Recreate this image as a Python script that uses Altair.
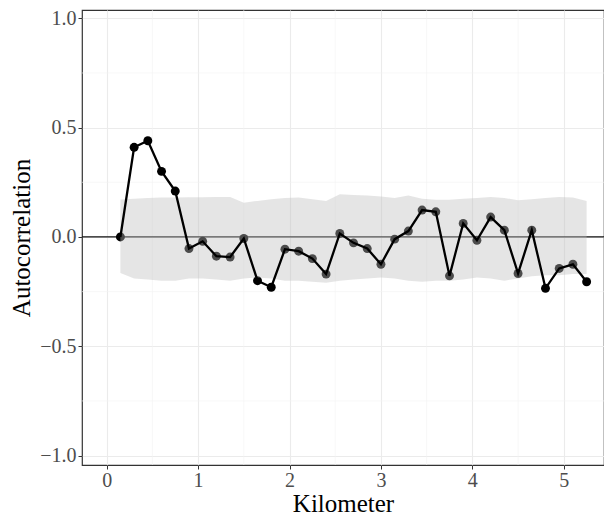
import altair as alt
import pandas as pd

# lags in km
lag_km = [round(0.15 * k, 2) for k in range(1, 36)]
acf = [0.00, 0.41, 0.44, 0.30, 0.21, -0.053, -0.02, -0.088, -0.092, -0.007,
       -0.20, -0.23, -0.056, -0.065, -0.099, -0.17, 0.016, -0.027, -0.053, -0.125,
       -0.01, 0.027, 0.123, 0.115, -0.178, 0.062, -0.015, 0.091, 0.031, -0.167,
       0.031, -0.235, -0.144, -0.125, -0.205]
env_upper = [0.171, 0.175, 0.178, 0.18, 0.18, 0.182, 0.182, 0.183, 0.183, 0.157,
             0.165, 0.172, 0.178, 0.18, 0.172, 0.164, 0.195, 0.192, 0.19, 0.185,
             0.178, 0.19, 0.175, 0.17, 0.17, 0.175, 0.178, 0.183, 0.178, 0.168,
             0.172, 0.178, 0.183, 0.18, 0.164]
env_lower = [-0.165, -0.19, -0.195, -0.2, -0.2, -0.19, -0.19, -0.195, -0.2, -0.19,
             -0.185, -0.19, -0.2, -0.2, -0.205, -0.21, -0.2, -0.195, -0.19, -0.185,
             -0.19, -0.2, -0.205, -0.2, -0.2, -0.195, -0.185, -0.19, -0.2, -0.19,
             -0.18, -0.175, -0.175, -0.17, -0.17]

x_major = [0, 1, 2, 3, 4, 5]
x_minor = [0.5, 1.5, 2.5, 3.5, 4.5]
y_major = [-1.0, -0.5, 0.0, 0.5, 1.0]
y_minor = [-0.75, -0.25, 0.25, 0.75]

df = pd.DataFrame({"lag": lag_km, "acf": acf, "lo": env_lower, "hi": env_upper})

FONT = "Liberation Serif"
xs = alt.Scale(domain=[-0.27, 5.44], nice=False, zero=False)
ys = alt.Scale(domain=[-1.043, 1.038], nice=False, zero=False)

xaxis = alt.Axis(values=x_major, format="d", title="Kilometer")
yaxis = alt.Axis(values=y_major, format=".1f", title="Autocorrelation")

X = lambda f: alt.X(f, scale=xs, axis=xaxis)
Y = lambda f: alt.Y(f, scale=ys, axis=yaxis)

base = alt.Chart(df)

minor_x = alt.Chart(pd.DataFrame({"v": x_minor})).mark_rule(
    color="#f2f2f2", strokeWidth=0.6).encode(x=X("v:Q"))
minor_y = alt.Chart(pd.DataFrame({"v": y_minor})).mark_rule(
    color="#f2f2f2", strokeWidth=0.6).encode(y=Y("v:Q"))

zero = alt.Chart(pd.DataFrame({"v": [0.0]})).mark_rule(
    color="#111111", strokeWidth=1.2).encode(y=Y("v:Q"))

pts = base.mark_circle(size=80, color="#000000", opacity=1).encode(
    x=X("lag:Q"), y=Y("acf:Q"))

band = base.mark_area(color="#bebebe", opacity=0.4).encode(
    x=X("lag:Q"), y=Y("lo:Q"), y2="hi:Q")

line = base.mark_line(color="#000000", strokeWidth=2.3).encode(
    x=X("lag:Q"), y=Y("acf:Q"))

chart = alt.layer(minor_x, minor_y, zero, pts, band, line).properties(
    width=522, height=455,
    background="white",
    autosize=alt.AutoSizeParams(type="none"),
    padding={"left": 74, "top": 2, "right": 0, "bottom": 50},
).configure_view(
    stroke="#333333", strokeWidth=1.2
).configure_axis(
    grid=True, gridColor="#ebebeb", gridWidth=1.1, domain=False,
    tickColor="#333333", tickSize=4, tickWidth=1,
    labelFont=FONT, labelFontSize=20, labelColor="#4d4d4d", labelPadding=2,
    titleFont=FONT, titleFontSize=25, titleFontWeight="normal", titleColor="#000000",
).configure_axisX(titlePadding=1, labelPadding=1).configure_axisY(titlePadding=5)

chart.save("out.html", embed_options={"renderer": "svg", "actions": False})
